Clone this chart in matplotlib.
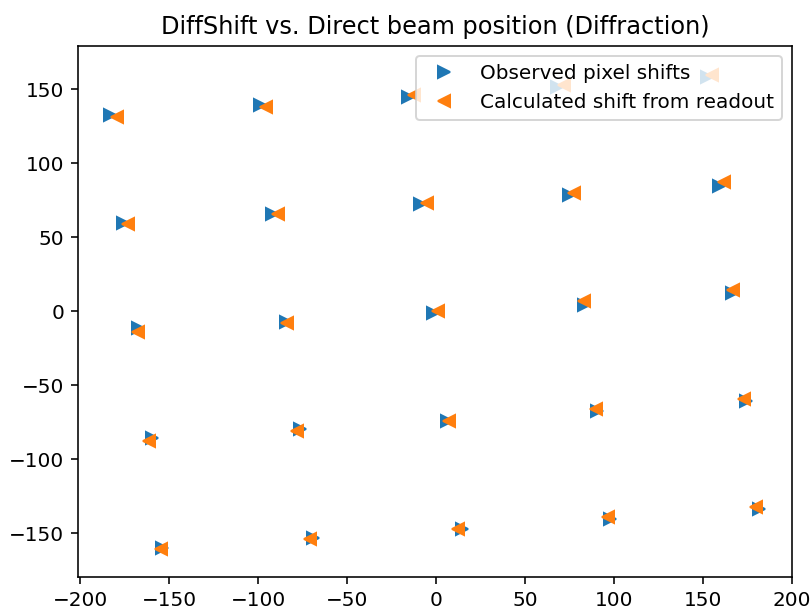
import matplotlib
matplotlib.use("Agg")
from matplotlib import pyplot as plt

# observed shifts (blue, '>')
obs_x = [-183.4, -99.2, -15.8, 67.9, 152.3,
         -175.9, -92.1, -8.8, 74.7, 159.2,
         -167.8, -84.4, -1.5, 83.3, 166.3,
         -159.9, -76.7, 6.2, 90.7, 174.2,
         -154.0, -69.4, 14.8, 98.1, 181.7]
obs_y = [132.6, 139.4, 145.0, 151.8, 158.5,
         59.5, 65.5, 72.3, 78.6, 84.9,
         -11.5, -7.4, -0.9, 4.3, 12.2,
         -85.8, -79.7, -73.9, -67.4, -60.4,
         -159.7, -153.0, -147.3, -140.3, -133.8]

# calculated shifts from readout (orange, '<')
calc_x = [-179.6, -95.8, -12.4, 71.7, 155.1,
          -173.1, -88.7, -5.2, 77.6, 161.9,
          -167.5, -84.0, 1.1, 83.4, 166.9,
          -161.3, -78.0, 7.0, 89.8, 173.3,
          -154.5, -70.9, 12.2, 96.6, 180.0]
calc_y = [131.5, 138.2, 146.2, 152.9, 159.7,
          59.0, 65.5, 73.0, 80.1, 87.6,
          -13.8, -8.1, 0.2, 7.2, 14.4,
          -87.6, -80.9, -73.9, -66.2, -59.5,
          -160.8, -153.9, -146.9, -139.2, -132.4]

fig = plt.figure(figsize=(811 / 144, 614 / 144), dpi=144)
fig.subplots_adjust(left=0.0966, right=0.977, top=0.9256, bottom=0.0598)
ax = fig.add_subplot(111)

ax.plot(obs_x, obs_y, '>', label='Observed pixel shifts')
ax.plot(calc_x, calc_y, '<', label='Calculated shift from readout')

ax.set_xlim(-201.2, 200.4)
ax.set_ylim(-179.7, 179.5)
ax.set_title('DiffShift vs. Direct beam position (Diffraction)')
ax.legend(loc='upper right')

fig.savefig('out.png', dpi=144)
